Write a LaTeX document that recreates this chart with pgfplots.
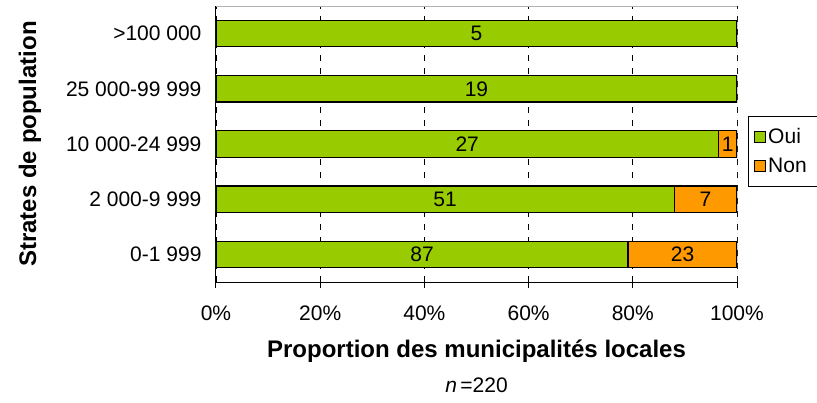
\documentclass[border=0pt]{standalone}
\usepackage{pgfplots}
\pgfplotsset{compat=1.18}
\usepackage{pgfplotstable}
\usepackage{fontspec}
\setmainfont{Liberation Sans}
\definecolor{ouicol}{HTML}{99CC00}
\definecolor{noncol}{HTML}{FF9900}

\pgfplotstableread{
y pct n
0 79.0909 87
1 87.9310 51
2 96.4286 27
3 100 19
4 100 5
}\ouitable
\pgfplotstableread{
y pct n
0 20.9091 23
1 12.0690 7
2 3.5714 1
}\nontable

\begin{document}
\begin{tikzpicture}
\begin{axis}[
 scale only axis, width=521pt, height=276pt,
 xbar stacked, bar width=0.48,
 xmin=0, xmax=100, ymin=-0.5, ymax=4.5,
 axis x line*=bottom, axis y line*=left,
 axis line style={black, line width=1pt},
 /pgf/number format/assume math mode=true,
 xtick={0,20,40,60,80,100},
 xticklabels={0\%,20\%,40\%,60\%,80\%,100\%},
 xmajorgrids,
 major grid style={black, dash pattern=on 6pt off 7pt, line width=0.8pt},
 ytick={0,1,2,3,4},
 yticklabels={0-1 999, 2 000-9 999, 10 000-24 999, 25 000-99 999, >100 000},
 minor ytick={-0.5,0.5,1.5,2.5,3.5,4.5},
 tick align=outside,
 major tick length=6pt, minor tick length=7pt,
 xtick style={black, line width=1pt},
 ytick style={draw=none},
 minor tick style={black, line width=1pt},
 tick label style={font=\fontsize{21}{25}\selectfont},
 xticklabel style={yshift=-14pt},
 yticklabel style={xshift=-5pt},
 xlabel={Proportion des municipalités locales},
 xlabel style={at={(axis description cs:0.5,0)}, anchor=center, yshift=-69pt, font=\fontsize{24}{28}\selectfont\bfseries},
 ylabel={Strates de population},
 ylabel style={at={(axis description cs:0,0.5)}, anchor=center, yshift=186pt, font=\fontsize{24}{28}\selectfont\bfseries},
 point meta=explicit,
 legend style={at={(axis description cs:1.021,0.60)}, anchor=north west, draw=black, line width=0.6pt, font=\fontsize{21}{25}\selectfont, row sep=9pt, inner xsep=6pt, inner ysep=10pt},
 legend cell align=left,
 legend image code/.code={\draw[#1, line width=1pt] (0pt,-5.5pt) rectangle (11pt,5.5pt);},
]
\addplot[fill=ouicol, draw=black, line width=1.2pt,
  nodes near coords,
  every node near coord/.style={anchor=center, black, font=\fontsize{21}{25}\selectfont}]
  table[x=pct, y=y, meta=n] {\ouitable};
\addplot[fill=noncol, draw=black, line width=1.2pt,
  nodes near coords,
  every node near coord/.style={anchor=center, black, font=\fontsize{21}{25}\selectfont}]
  table[x=pct, y=y, meta=n] {\nontable};
\legend{Oui, Non\rule{30pt}{0pt}}
\draw[gray!60, line width=1pt] (rel axis cs:0,1) -- (rel axis cs:1,1) -- (rel axis cs:1,0);
\end{axis}
\node[font=\fontsize{21}{25}\selectfont, anchor=center] at ([yshift=-103pt]current axis.south) {\textit{n}\,=220};
\pgfresetboundingbox
\useasboundingbox ([xshift=-216pt,yshift=-120pt]current axis.south west) rectangle ++(817pt,402pt);
\end{tikzpicture}
\end{document}
